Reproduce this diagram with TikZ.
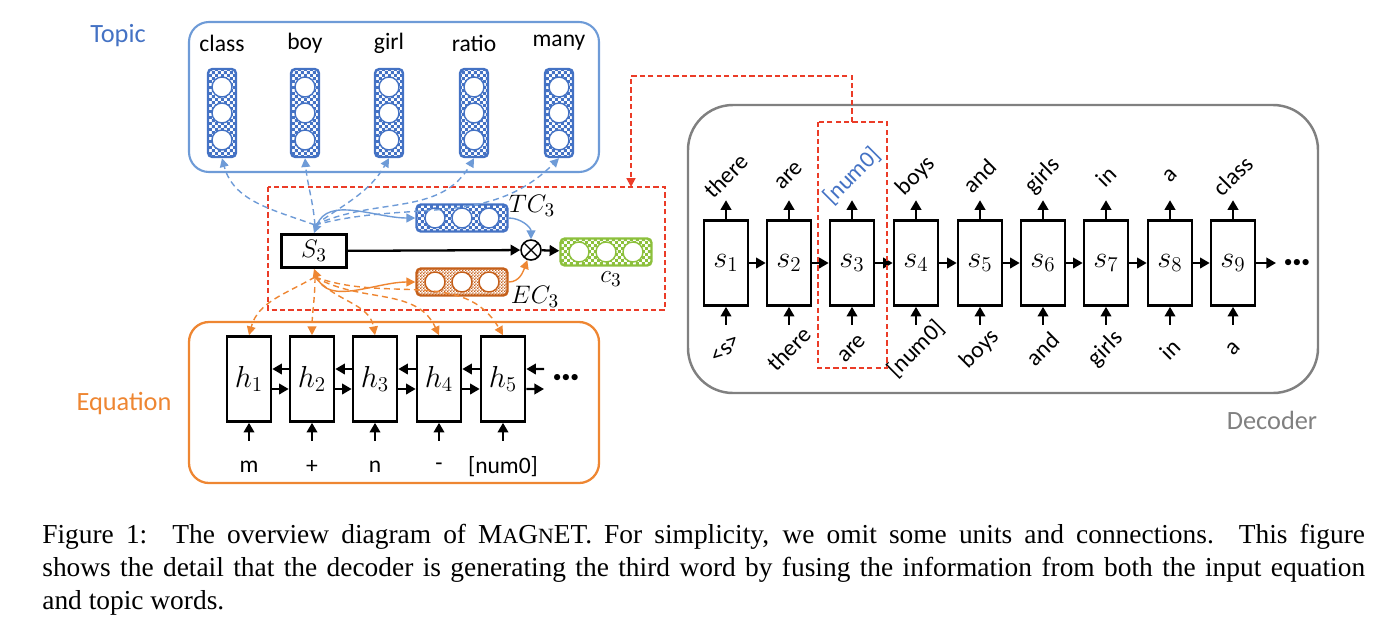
\documentclass[tikz,border=0pt]{standalone}
\usepackage{fontspec}
\setmainfont{Carlito}
\newfontfamily\capfont{Liberation Serif}
\usepackage{xcolor}
\usetikzlibrary{arrows.meta,patterns}

\definecolor{tblue}{RGB}{68,114,196}
\definecolor{lblue}{RGB}{110,155,215}
\definecolor{eorange}{RGB}{238,134,50}
\definecolor{ecbrown}{RGB}{197,95,25}
\definecolor{cgreen}{RGB}{140,192,60}
\definecolor{dred}{RGB}{235,60,40}
\definecolor{dgray}{RGB}{128,128,128}

\pgfdeclarepatternformonly{smallcheck}{\pgfpointorigin}{\pgfqpoint{3.4pt}{3.4pt}}{\pgfqpoint{3.4pt}{3.4pt}}{%
  \pgfpathrectangle{\pgfpointorigin}{\pgfqpoint{1.7pt}{1.7pt}}%
  \pgfpathrectangle{\pgfqpoint{1.7pt}{1.7pt}}{\pgfqpoint{1.7pt}{1.7pt}}%
  \pgfusepath{fill}}
\pgfdeclarepatternformonly{finecheck}{\pgfpointorigin}{\pgfqpoint{1.8pt}{1.8pt}}{\pgfqpoint{1.8pt}{1.8pt}}{%
  \pgfpathrectangle{\pgfpointorigin}{\pgfqpoint{0.9pt}{0.9pt}}%
  \pgfpathrectangle{\pgfqpoint{0.9pt}{0.9pt}}{\pgfqpoint{0.9pt}{0.9pt}}%
  \pgfusepath{fill}}

\tikzset{
    tword/.style={font=\fontsize{13.4}{16}\selectfont, inner sep=0},
    rword/.style={tword, rotate=45},
    grouplbl/.style={font=\fontsize{15}{18}\selectfont, inner sep=0},
    mathlbl/.style={font=\fontsize{15}{18}\selectfont, inner sep=0},
    dots/.style={font=\fontsize{10}{12}\selectfont, inner sep=0},
    cell/.style={draw, line width=1.5pt, minimum width=0.88cm, minimum height=1.7cm, inner sep=0, font=\fontsize{16.5}{18}\selectfont},
    vec/.style={draw, line width=1.4pt, rounded corners=2.5pt, pattern=smallcheck, inner sep=0},
    topicvec/.style={vec, draw=tblue, pattern color=tblue, minimum width=0.56cm, minimum height=1.76cm},
    hvec/.style={vec, minimum width=1.82cm, minimum height=0.54cm},
    unit/.style={fill=white, line width=0.8pt},
    arr/.style={line width=1.3pt, -{Triangle[length=5.5pt,width=6pt]}},
    bluearr/.style={lblue, line width=0.8pt, -{Triangle[length=5pt,width=5pt]}},
    orangearr/.style={eorange, line width=0.8pt, -{Triangle[length=5pt,width=5pt]}},
    softdash/.style={dash pattern=on 3.4pt off 2.3pt},
    reddash/.style={dred, line width=1.1pt, dash pattern=on 3pt off 1.8pt}
}

\begin{document}
\begin{tikzpicture}[x=0.02cm, y=0.02cm]
    \useasboundingbox (0,0) rectangle (1386,-626);

    % topic words
    \draw[lblue, line width=1.2pt, rounded corners=0.4cm] (189,-22) rectangle (599,-172);
    \node[grouplbl, text=tblue] (topiclbl) at (118,-36) {Topic};
    \foreach \x/\w [count=\i] in {222/class,305/boy,389/girl,474/ratio,559/many} {
        \node[tword] (tw\i) at (\x,-43) {\w};
        \node[topicvec] (tv\i) at (\x,-113) {};
        \foreach \o in {26,0,-27}
            \draw[unit, draw=tblue] (tv\i) ++(0,\o) circle (10);
    }

    % attention
    \draw[reddash] (268,-187) rectangle (665,-310);
    \node[draw, line width=1.5pt, minimum width=1.3cm, minimum height=0.66cm, inner sep=0, font=\fontsize{15}{18}\selectfont] (st) at (314,-251) {$S_3$};
    \node[hvec, draw=tblue, pattern color=tblue] (tc) at (462,-218) {};
    \node[hvec, draw=ecbrown, pattern=finecheck, pattern color=ecbrown] (ec) at (462,-282) {};
    \node[hvec, draw=cgreen, pattern color=cgreen] (ctx) at (606,-252) {};
    \foreach \o in {-27,0,27} {
        \draw[unit, draw=tblue] (tc) ++(\o,0) circle (10);
        \draw[unit, draw=ecbrown] (ec) ++(\o,0) circle (10);
        \draw[unit, draw=cgreen] (ctx) ++(\o,0) circle (10);
    }
    \node[circle, draw, line width=0.9pt, minimum size=0.4cm, inner sep=0,
        path picture={\draw[line width=0.8pt] (path picture bounding box.north west) -- (path picture bounding box.south east)
            (path picture bounding box.north east) -- (path picture bounding box.south west);}] (mul) at (531,-250) {};
    \node[mathlbl] (tclbl) at (532,-206) {$TC_3$};
    \node[mathlbl] (eclbl) at (535,-297) {$EC_3$};
    \node[mathlbl] (clbl) at (611,-279) {$c_3$};

    \draw[arr] (st) -- (mul);
    \draw[arr] (mul) -- (ctx);
    \draw[bluearr, {Triangle[length=5pt,width=5pt]}-{Triangle[length=5pt,width=5pt]}] (st.north) to[out=70, in=180] (tc.west);
    \draw[orangearr, {Triangle[length=5pt,width=5pt]}-{Triangle[length=5pt,width=5pt]}] (st.south) to[out=-70, in=180] (ec.west);
    \draw[bluearr] (tc.east) to[out=0, in=90] (mul.north);
    \draw[orangearr] (ec.east) to[out=0, in=-110] (mul.250);

    % attention to topic words
    \coordinate (tsrc) at (315,-225);
    \draw[bluearr, softdash] (tsrc) to[out=160, in=-75] (tv1.south);
    \draw[bluearr, softdash] (tsrc) to[out=95, in=-85] (tv2.south);
    \draw[bluearr, softdash] (tsrc) to[out=35, in=-120] (tv3.south);
    \draw[bluearr, softdash] (tsrc) to[out=25, in=-120] (tv4.south);
    \draw[bluearr, softdash] (tsrc) to[out=15, in=-135] (tv5.south);

    % equation encoder
    \draw[eorange, line width=1.3pt, rounded corners=0.4cm] (189,-322) rectangle (599,-483);
    \node[grouplbl, text=eorange] (eqlbl) at (124,-404) {Equation};
    \foreach \x/\w [count=\i] in {249/m,312/+,375/n,439/-,503/{[num0]}} {
        \node[cell] (h\i) at (\x,-379) {$h_{\i}$};
        \node[tword] (e\i) at (\x,-467) {\w};
        \draw[arr] (h\i.south) ++(0,-18) -- (h\i.south);
    }
    \foreach \i [evaluate=\i as \j using int(\i+1)] in {1,...,4} {
        \draw[arr] ([yshift=0.2cm]h\j.west) -- ([yshift=0.2cm]h\i.east);
        \draw[arr] ([yshift=-0.2cm]h\i.east) -- ([yshift=-0.2cm]h\j.west);
    }
    \coordinate (hin) at (544,-369);
    \coordinate (hout) at (544,-389);
    \draw[arr] (hin) -- ([yshift=0.2cm]h5.east);
    \draw[arr] ([yshift=-0.2cm]h5.east) -- (hout);
    \node[dots] (hdots) at (566,-378) {\textbullet\textbullet\textbullet};

    % attention to equation
    \coordinate (esrc) at (315,-277);
    \draw[orangearr, softdash] (esrc) to[out=-150, in=75] (h1.north);
    \draw[orangearr, softdash] (esrc) to[out=-90, in=90] (h2.north);
    \draw[orangearr, softdash] (esrc) to[out=-50, in=100] (h3.north);
    \draw[orangearr, softdash] (esrc) to[out=-30, in=115] (h4.north);
    \draw[orangearr, softdash] (esrc) to[out=-20, in=120] (h5.north);

    % decoder
    \draw[dgray, line width=1.4pt, rounded corners=0.9cm] (688,-105) rectangle (1318,-393);
    \node[grouplbl, text=dgray] (declbl) at (1272,-420) {Decoder};
    \foreach \x/\w/\v/\c [count=\i] in {726/there/{<s>}/black, 789/are/there/black, 852/{[num0]}/are/tblue,
        916/boys/{[num0]}/black, 980/and/boys/black, 1043/girls/and/black, 1106/in/girls/black,
        1170/a/in/black, 1233/class/a/black} {
        \node[cell] (d\i) at (\x,-263) {$s_{\i}$};
        \node[rword, text=\c] (o\i) at (\x,-176) {\w};
        \node[rword] (i\i) at (\x,-349) {\v};
        \draw[arr] (d\i.north) -- ++(0,19);
        \draw[arr] (d\i.south) ++(0,-18) -- (d\i.south);
    }
    \foreach \i [evaluate=\i as \j using int(\i+1)] in {1,...,8}
        \draw[arr] (d\i) -- (d\j);
    \coordinate (dout) at (1276,-263);
    \draw[arr] (d9) -- (dout);
    \node[dots] (ddots) at (1297,-263) {\textbullet\textbullet\textbullet};

    % current step
    \draw[reddash] (818,-122) rectangle (887,-368);
    \coordinate (hltop) at (852,-122);
    \coordinate (attntop) at (631,-187);
    \draw[reddash, -{Triangle[length=5pt,width=5pt]}] (hltop) -- ++(0,46) -| (attntop);

    % caption
    \node[anchor=north west, inner sep=0, text width=26.46cm, align=justify,
        font=\capfont\fontsize{15.6}{18.8}\selectfont] (caption) at (42,-524)
        {Figure 1:\hspace{0.2em} The overview diagram of M{\fontsize{12.4}{14}\selectfont A}G{\fontsize{12.4}{14}\selectfont N}ET. For simplicity, we omit some units and connections. This figure\linebreak
        shows the detail that the decoder is generating the third word by fusing the information from both the input equation\linebreak
        and topic words.};
\end{tikzpicture}
\end{document}
